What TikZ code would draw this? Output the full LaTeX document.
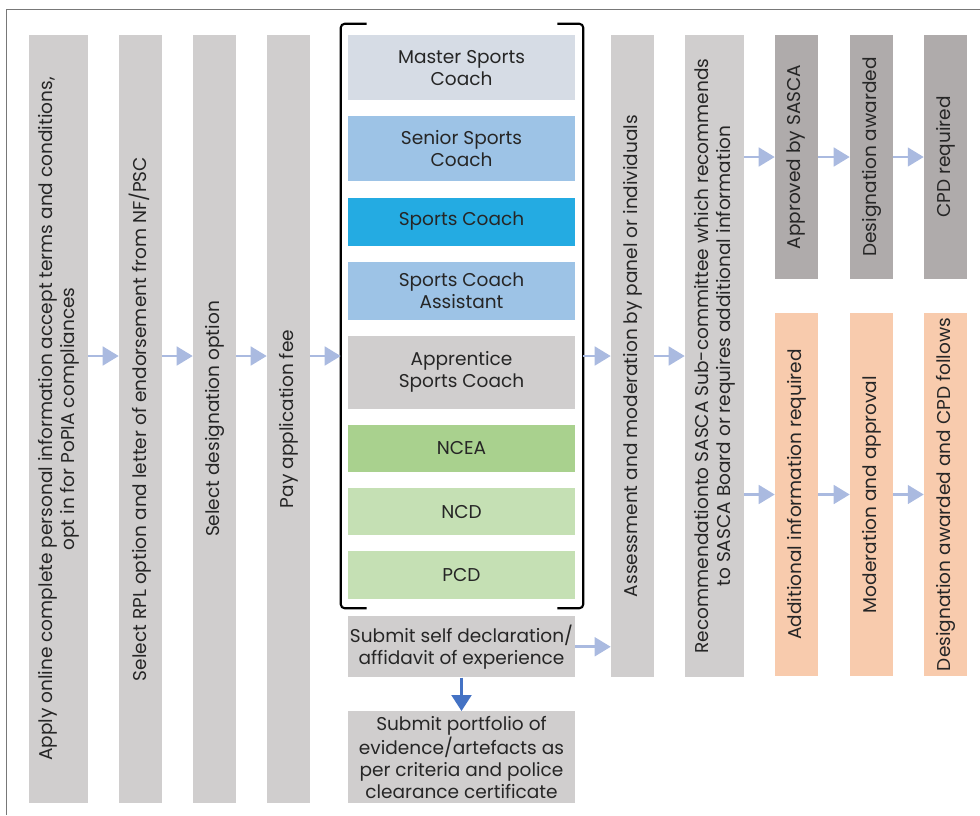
\documentclass[tikz,border=0pt]{standalone}
\usepackage{fontspec}
\setmainfont{Poppins}
\usepackage{tikz}
\usetikzlibrary{arrows.meta, positioning}

\definecolor{barfill}{RGB}{208,206,206}
\definecolor{darkfill}{RGB}{175,171,171}
\definecolor{peach}{RGB}{248,203,173}
\definecolor{mastercol}{RGB}{214,220,229}
\definecolor{seniorcol}{RGB}{157,195,230}
\definecolor{coachcol}{RGB}{36,171,226}
\definecolor{nceacol}{RGB}{169,209,142}
\definecolor{ncdcol}{RGB}{197,224,180}
\definecolor{ink}{RGB}{38,38,38}
\definecolor{flow}{RGB}{170,186,224}
\definecolor{downblue}{RGB}{68,114,196}
\definecolor{framecol}{RGB}{120,120,120}

\begin{document}
\begin{tikzpicture}[
  x=0.75pt, y=-0.75pt,
  font=\fontsize{13.9}{16.5}\selectfont, text=ink,
  bar/.style = {fill=barfill, rotate=90, align=center, inner sep=0pt, minimum width=576pt, minimum height=32.25pt},
  rank/.style = {fill=barfill, align=center, inner sep=0pt, minimum width=170.25pt},
  arrow/.style = {draw=flow, line width=2pt, -{Triangle[length=12pt, width=14pt]}},
  node distance=11.7pt
]
  \useasboundingbox (0,0) rectangle (980,815);

  % frame
  \draw[framecol, line width=1.2pt] (980,9.5) -- (6.5,9.5) -- (6.5,815);

  % application steps
  \node[bar, minimum height=44.25pt] (apply) at (58.5,419)
    {Apply online complete personal information accept terms and conditions,\\opt in for PoPIA compliances};
  \node[bar] (rpl) at (140.5,419) {Select RPL option and letter of endorsement from NF/PSC};
  \node[bar] (option) at (214.5,419) {Select designation option};
  \node[bar] (fee) at (288.5,419) {Pay application fee};

  % designations
  \node[rank, fill=mastercol, minimum height=48.75pt, anchor=north] (master) at (461.5,35) {Master Sports\\Coach};
  \node[rank, fill=seniorcol, minimum height=48.75pt, below=of master] (senior) {Senior Sports\\Coach};
  \node[rank, fill=coachcol, minimum height=36pt, below=of senior] (coach) {Sports Coach};
  \node[rank, fill=seniorcol, minimum height=43.5pt, below=of coach] (assistant) {Sports Coach\\Assistant};
  \node[rank, minimum height=54.75pt, below=of assistant] (apprentice) {Apprentice\\Sports Coach};
  \node[rank, fill=nceacol, minimum height=35.25pt, below=of apprentice] (ncea) {NCEA};
  \node[rank, fill=ncdcol, minimum height=35.25pt, below=of ncea] (ncd) {NCD};
  \node[rank, fill=ncdcol, minimum height=36pt, below=of ncd] (pcd) {PCD};

  % bracket round the designations
  \node[minimum width=181.5pt, minimum height=438pt, inner sep=0pt] (ranks) at (462,316) {};
  \draw[line width=1.6pt, rounded corners=3pt] ([xshift=19.5pt]ranks.north west) -- (ranks.north west)
    -- (ranks.south west) -- ([xshift=19.5pt]ranks.south west);
  \draw[line width=1.6pt, rounded corners=3pt] ([xshift=-19.5pt]ranks.north east) -- (ranks.north east)
    -- (ranks.south east) -- ([xshift=-19.5pt]ranks.south east);

  % evidence
  \node[rank, minimum height=45.75pt, anchor=north] (selfdecl) at (461.5,616) {Submit self declaration/\\affidavit of experience};
  \node[rank, minimum height=69pt, anchor=north] (portfolio) at (461.5,711)
    {Submit portfolio of\\evidence/artefacts as\\per criteria and police\\clearance certificate};

  % review
  \node[bar, minimum width=481.5pt] (assess) at (632.5,356) {Assessment and moderation by panel or individuals};
  \node[bar, minimum width=481.5pt, minimum height=44.25pt] (recommend) at (714.5,356)
    {Recommendationto SASCA Sub-committee which recommends\\to SASCA Board or requires additional information};

  % outcomes
  \node[bar, fill=darkfill, minimum width=183pt] (approved) at (796.5,157) {Approved by SASCA};
  \node[bar, fill=darkfill, minimum width=183pt] (awarded) at (871.5,157) {Designation awarded};
  \node[bar, fill=darkfill, minimum width=183pt] (cpd) at (945.5,157) {CPD required};
  \node[bar, fill=peach, minimum width=272.25pt] (addinfo) at (796.5,494.5) {Additional information required};
  \node[bar, fill=peach, minimum width=272.25pt] (moderation) at (871.5,494.5) {Moderation and approval};
  \node[bar, fill=peach, minimum width=272.25pt] (follows) at (945.5,494.5) {Designation awarded and CPD follows};

  % connectors
  \draw[arrow] (apply.south |- assess) -- (rpl.north |- assess);
  \draw[arrow] (rpl.south |- assess) -- (option.north |- assess);
  \draw[arrow] (option.south |- assess) -- (fee.north |- assess);
  \draw[arrow] (fee.south |- assess) -- (ranks.west |- assess);
  \draw[arrow] (ranks.east |- assess) -- (assess.north);
  \draw[arrow] (assess.south) -- (recommend.north);
  \draw[arrow] (selfdecl.east) -- (selfdecl.east -| assess.north);
  \draw[draw=downblue, line width=1.6pt, -{Triangle[length=12pt, width=15pt]}] (selfdecl.south) -- (portfolio.north);

  \draw[arrow] (recommend.south |- approved) -- (approved.north);
  \draw[arrow] (approved.south) -- (awarded.north);
  \draw[arrow] (awarded.south) -- (cpd.north);
  \draw[arrow] (recommend.south |- addinfo) -- (addinfo.north);
  \draw[arrow] (addinfo.south) -- (moderation.north);
  \draw[arrow] (moderation.south) -- (follows.north);

\end{tikzpicture}
\end{document}
